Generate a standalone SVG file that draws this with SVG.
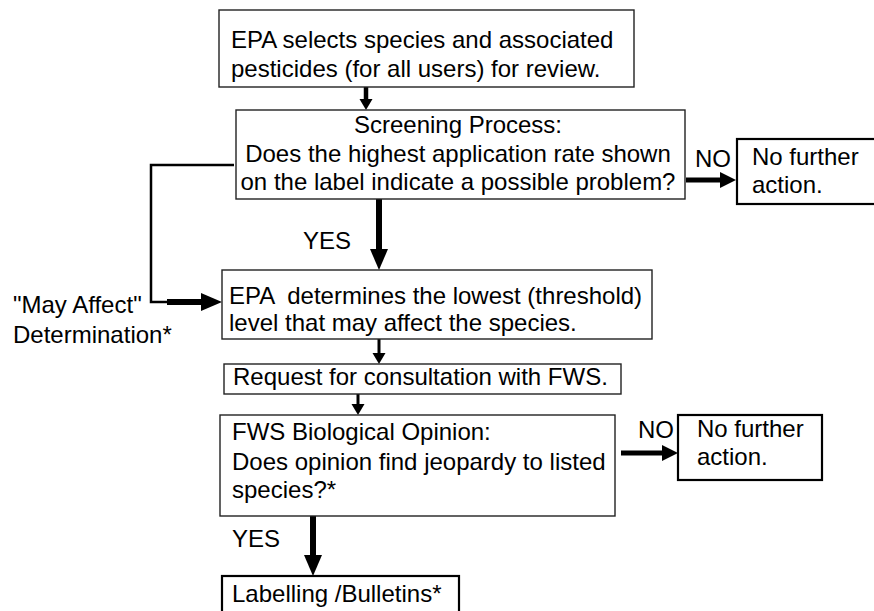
<svg xmlns="http://www.w3.org/2000/svg" width="874" height="611" viewBox="0 0 874 611">
<style>
text{font-family:"Liberation Sans",Arial,sans-serif;font-size:24px;fill:#000}
.box{fill:#fff;stroke:#222;stroke-width:1.4}
.bold{fill:#fff;stroke:#000;stroke-width:2.2}
.c{fill:none;stroke:#000;stroke-linecap:butt}
</style>
<defs>
<marker id="hb" markerUnits="userSpaceOnUse" markerWidth="22" markerHeight="20" refX="1" refY="9" orient="auto"><path d="M0,0 L21,9 L0,18 z" fill="#000"/></marker>
<marker id="hm" markerUnits="userSpaceOnUse" markerWidth="17" markerHeight="18" refX="1" refY="8" orient="auto"><path d="M0,0 L16,8 L0,16 z" fill="#000"/></marker>
<marker id="hs" markerUnits="userSpaceOnUse" markerWidth="13" markerHeight="14" refX="1" refY="6.5" orient="auto"><path d="M0,0 L11,6.5 L0,13 z" fill="#000"/></marker>
</defs>
<g id="connectors">
<line class="c" x1="366" y1="87" x2="366" y2="100" stroke-width="4.5" marker-end="url(#hs)"/>
<line class="c" x1="379" y1="199" x2="379" y2="250" stroke-width="6" marker-end="url(#hb)"/>
<polyline class="c" points="234,165 151,165 151,302 168,302" stroke-width="2.5"/>
<line class="c" x1="167" y1="302" x2="202" y2="302" stroke-width="6" marker-end="url(#hb)"/>
<line class="c" x1="379" y1="339" x2="379" y2="354" stroke-width="3" marker-end="url(#hs)"/>
<line class="c" x1="358" y1="394" x2="358" y2="405" stroke-width="3" marker-end="url(#hs)"/>
<line class="c" x1="686" y1="180" x2="721" y2="180" stroke-width="5" marker-end="url(#hm)"/>
<line class="c" x1="621" y1="453" x2="663" y2="453" stroke-width="5" marker-end="url(#hm)"/>
<line class="c" x1="313" y1="516" x2="313" y2="556" stroke-width="6" marker-end="url(#hb)"/>
<text x="303" y="249">YES</text>
<text x="232" y="547">YES</text>
<text x="695" y="167">NO</text>
<text x="638" y="438">NO</text>
<text x="13" y="313">"May Affect"</text>
<text x="13" y="343">Determination*</text>
</g>
<g id="n1">
<rect class="box" x="219" y="10" width="415" height="77"/>
<text x="231" y="48">EPA selects species and associated</text>
<text x="231" y="77">pesticides (for all users) for review.</text>
</g>
<g id="n2">
<rect class="box" x="236" y="110" width="449" height="89"/>
<text x="458" y="133" text-anchor="middle">Screening Process:</text>
<text x="458" y="162" text-anchor="middle">Does the highest application rate shown</text>
<text x="458" y="190" text-anchor="middle">on the label indicate a possible problem?</text>
</g>
<g id="n3">
<rect class="bold" x="737" y="139" width="145" height="65"/>
<text x="752" y="165">No further</text>
<text x="752" y="193">action.</text>
</g>
<g id="n4">
<rect class="box" x="222" y="270" width="430" height="69"/>
<text x="229" y="304" font-size="23.3" xml:space="preserve">EPA  determines the lowest (threshold)</text>
<text x="229" y="331">level that may affect the species.</text>
</g>
<g id="n5">
<rect class="box" x="224" y="364" width="397" height="30"/>
<text x="233" y="385">Request for consultation with FWS.</text>
</g>
<g id="n6">
<rect class="box" x="220" y="415" width="395" height="101"/>
<text x="232" y="440">FWS Biological Opinion:</text>
<text x="232" y="470">Does opinion find jeopardy to listed</text>
<text x="232" y="498">species?*</text>
</g>
<g id="n7">
<rect class="bold" x="678" y="415" width="144" height="65"/>
<text x="697" y="437">No further</text>
<text x="697" y="465">action.</text>
</g>
<g id="n8">
<rect class="bold" x="222" y="576" width="237" height="45"/>
<text x="232" y="602">Labelling /Bulletins*</text>
</g>
</svg>
